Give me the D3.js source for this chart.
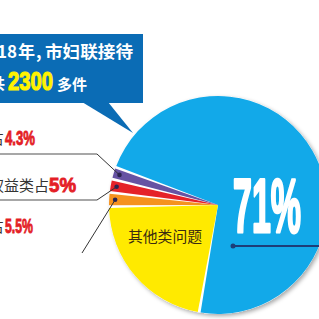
<!DOCTYPE html>
<html><head><meta charset="utf-8">
<script src="https://cdn.jsdelivr.net/npm/d3@7"></script>
<style>html,body{margin:0;padding:0;background:#fff;overflow:hidden}</style>
</head><body>
<svg id="c" width="319" height="319"></svg>
<script>
// ---- data ----
const categories = ["婚姻家庭类", "其他类问题", "类别5.5", "权益类", "类别4.3"];
const percentLabels = ["71%", "", "5.5%", "5%", "4.3%"];
// angular share of each slice as drawn in the picture (degrees)
const drawnShares = [256, 77, 6, 5.5, 5];
const colors = ["#12a9e9", "#ffea00", "#f5921f", "#e52229", "#6653a3"];
const titleParts = ["2018", "年", ",", "市妇联接待"];
const titleCount = "2300";

const CJK = "'Noto Sans CJK SC','Noto Sans',sans-serif";
const NARROW = "'Liberation Sans Narrow','Liberation Sans',Arial,sans-serif";

const svg = d3.select("#c");
const defs = svg.append("defs");
const f = defs.append("filter").attr("id","sh").attr("x","-20%").attr("y","-20%").attr("width","140%").attr("height","140%");
f.append("feDropShadow").attr("dx",2).attr("dy",2).attr("stdDeviation",2).attr("flood-color","#000").attr("flood-opacity",0.35);

// ---- title callout ----
svg.append("rect").attr("x",-5).attr("y",34).attr("width",148).attr("height",69).attr("fill","#0b6cb5");
svg.append("polygon").attr("points","82,102 108,102 133,133").attr("fill","#0b6cb5");
const t1 = svg.append("text").attr("y",58).attr("font-family",CJK).attr("font-weight",700).attr("font-size",17).attr("fill","#fff");
t1.append("tspan").attr("x",17).attr("text-anchor","end").text(titleParts[0]);
svg.append("text").attr("x",18).attr("y",58).attr("font-family",CJK).attr("font-weight",700).attr("font-size",17).attr("fill","#fff").text(titleParts[1]);
svg.append("text").attr("x",36).attr("y",58).attr("font-family",CJK).attr("font-weight",700).attr("font-size",17).attr("fill","#fff").text(titleParts[2]);
svg.append("text").attr("x",45).attr("y",58).attr("textLength",88).attr("lengthAdjust","spacingAndGlyphs")
  .attr("font-family",CJK).attr("font-weight",700).attr("font-size",17).attr("fill","#fff").text(titleParts[3]);
svg.append("text").attr("x",-10).attr("y",89).attr("font-family",CJK).attr("font-weight",700).attr("font-size",15).attr("fill","#fff").text("共");
svg.append("text").attr("x",8).attr("y",90).attr("textLength",45).attr("lengthAdjust","spacingAndGlyphs")
  .attr("font-family",NARROW).attr("font-weight",700).attr("font-size",26).attr("fill","#fff200")
  .attr("stroke","#fff200").attr("stroke-width",1.2).text(titleCount);
svg.append("text").attr("x",57).attr("y",90).attr("font-family",CJK).attr("font-weight",700).attr("font-size",15).attr("fill","#fff").text("多件");

// ---- pie ----
const cx = 218, cy = 205, R = 109;
const pad = 1.5 * Math.PI / 180;
const pie = d3.pie().sort(null).value(d => d).padAngle(pad)
  .startAngle(290.25 * Math.PI / 180).endAngle(290.25 * Math.PI / 180 + 2 * Math.PI);
const arcs = pie(drawnShares);
const arc = d3.arc().innerRadius(0).outerRadius(R);
const g = svg.append("g").attr("transform",`translate(${cx},${cy})`);
g.append("circle").attr("r",R).attr("fill","#fff").attr("filter","url(#sh)");
g.selectAll("path.s").data(arcs).join("path").attr("class","s")
  .attr("d",arc).attr("fill",(d,i)=>colors[i]);

// ---- 71% label ----
svg.append("text").attr("x",233).attr("y",232).attr("textLength",68).attr("lengthAdjust","spacingAndGlyphs")
  .attr("font-family",NARROW).attr("font-weight",700).attr("font-size",76).attr("fill","#fff")
  .attr("stroke","#fff").attr("stroke-width",3).attr("stroke-linejoin","round").text(percentLabels[0]);
svg.append("line").attr("x1",233).attr("y1",246).attr("x2",319).attr("y2",246).attr("stroke","#1d3d78").attr("stroke-width",2);
svg.append("circle").attr("cx",233).attr("cy",246).attr("r",2.5).attr("fill","#1d3d78");

// other label
svg.append("text").attr("x",165).attr("y",242).attr("text-anchor","middle").attr("textLength",74).attr("lengthAdjust","spacingAndGlyphs")
  .attr("font-family",CJK).attr("font-size",14.5).attr("fill","#3b2b10").text(categories[1]);

// ---- small slice leaders ----
const dotArc = d3.arc().innerRadius(98).outerRadius(108);
const idx = [2,3,4];
const dots = idx.map(i => { const c = dotArc.centroid(arcs[i]); return [c[0]+cx, c[1]+cy]; });
const leaders = [
  {i:4, pts:[[0,154],[97,154]]},
  {i:3, pts:[[0,200],[97,200]]},
  {i:2, pts:[[82,253]]}
];
leaders.forEach(L => {
  const d = dots[idx.indexOf(L.i)];
  if (L.pts.length === 2) {
    svg.append("line").attr("x1",L.pts[0][0]).attr("y1",L.pts[0][1]).attr("x2",L.pts[1][0]).attr("y2",L.pts[1][1])
      .attr("stroke","#8a8a8a").attr("stroke-width",1.3);
  }
  const s = L.pts[L.pts.length-1];
  svg.append("line").attr("x1",s[0]).attr("y1",s[1]).attr("x2",d[0]).attr("y2",d[1]).attr("stroke","#333").attr("stroke-width",1);
  svg.append("circle").attr("cx",d[0]).attr("cy",d[1]).attr("r",2.3).attr("fill","#2b2550");
});

// left labels
const leftLabels = [
  {pre:"占", preX:-11, val:percentLabels[4], vx:5, vw:30, y:145},
  {pre:"权益类占", preX:-11, val:percentLabels[3], vx:49, vw:27, y:192},
  {pre:"占", preX:-11, val:percentLabels[2], vx:5, vw:28, y:233}
];
leftLabels.forEach(l => {
  svg.append("text").attr("x",l.preX).attr("y",l.y-1).attr("font-family",CJK).attr("font-size",15).attr("fill","#333").text(l.pre);
  svg.append("text").attr("x",l.vx).attr("y",l.y).attr("textLength",l.vw).attr("lengthAdjust","spacingAndGlyphs")
    .attr("font-family",NARROW).attr("font-weight",700).attr("font-size",21).attr("fill","#e41e26")
    .attr("stroke","#e41e26").attr("stroke-width",0.9).text(l.val);
});
</script>
</body></html>
